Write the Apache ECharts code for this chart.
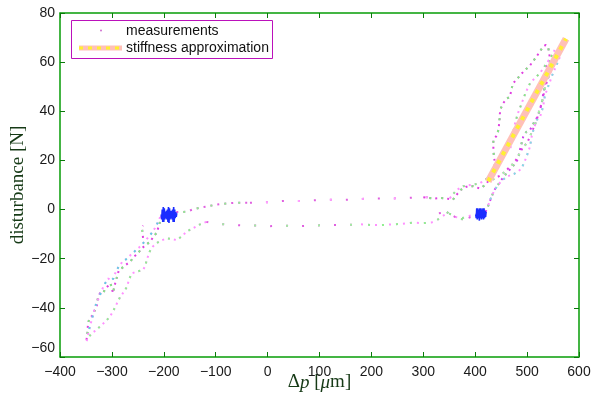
<!DOCTYPE html>
<html><head><meta charset="utf-8">
<script src="https://cdn.jsdelivr.net/npm/echarts@6/dist/echarts.min.js"></script>
<style>html,body{margin:0;padding:0;background:#fff}#c{width:593px;height:397px}</style>
</head><body><div id="c"></div>
<script>
// ---- axis definitions ----
const xMin = -400, xMax = 600, xStep = 100;
const yMin = -60, yMax = 80, yStep = 20;

// ---- stiffness approximation ----
const stiffX = [425, 575];
const stiffY = [11.5, 69.5];

// ---- measurement traces ([dp, disturbance]) ----
const leftUp1 = [[-349,-53],[-347,-50],[-346,-46],[-342,-44],[-337,-43],[-333,-41],[-329,-39],[-327,-36],[-323,-34],[-317,-34],[-312,-32],[-307,-31],[-303,-30],[-300,-32],[-298,-34],[-295,-31],[-291,-28],[-287,-25],[-282,-24],[-276,-23],[-270,-22],[-264,-21],[-257,-19],[-250,-18],[-244,-16],[-238,-15],[-232,-14],[-226,-13],[-220,-11],[-214,-9.5],[-210,-7],[-206,-4],[-203,-2]];
const leftUp2 = [[-346,-51],[-343,-48],[-339,-45],[-334,-41],[-330,-38],[-325,-36],[-320,-33],[-313,-30],[-307,-28],[-302,-29],[-297,-28],[-292,-25],[-286,-23],[-279,-21],[-271,-20],[-264,-18.5],[-256,-17],[-248,-15.5],[-241,-14],[-235,-12.5],[-229,-11],[-223,-9.5],[-217,-7.5],[-212,-5.5],[-207,-3]];
const leftTail = [[-240,-11.5],[-241,-9.5],[-242,-7.5],[-240,-6.5]];
const leftDown = [[-118,-5],[-130,-6],[-143,-7.5],[-156,-9],[-166,-11],[-175,-12.4],[-185,-12],[-194,-11.7],[-204,-12.5],[-214,-13.7],[-221,-15],[-227,-17],[-232,-20],[-236,-23],[-240,-24.6],[-248,-25],[-256,-25.5],[-262,-26],[-267,-28.5],[-271,-31.4],[-277,-33.5],[-284,-35.5],[-291,-38.5],[-298,-41.5],[-304,-43.6],[-312,-45.5],[-320,-47],[-330,-49],[-339,-50.4],[-345,-52],[-349,-53.5]];
const midUpDense = [[-176,-1],[-165,-1],[-156,-0.9],[-145,0],[-130,0.8],[-117,1.2],[-100,2],[-90,2.3],[-79,2.5],[-60,2.8],[-45,2.8],[-34,2.8]];
const midUpSparse = [[-34,2.8],[0,3],[30,3.5],[60,3.5],[90,3.8],[120,4],[150,4],[180,4.3],[200,4.5],[230,4.5],[260,4.6],[290,5],[310,5]];
const midLoSparse = [[-118,-5],[-100,-5.8],[-80,-6],[-60,-6.3],[-40,-6.5],[-20,-6.5],[0,-6.8],[30,-6.5],[60,-6.8],[90,-6.5],[120,-6.3],[150,-6.3],[180,-6]];
const midLoDense = [[180,-6],[200,-6.3],[220,-6.3],[240,-6],[260,-5.8],[280,-5.3],[300,-5.5],[315,-5.3],[325,-4.5],[335,-3],[345,-1.5],[355,-2],[362,-3],[371,-3.5],[380,-3.3],[390,-2.5],[400,-2]];
const midLo3 = [[330,-1.5],[345,-1],[357,-2.5],[368,-3.8],[380,-4],[392,-3],[402,-2]];
const rightUpOuter = [[300,5],[320,4.5],[332,4.7],[345,4.5],[357,4],[364,6],[372,8],[383,9.3],[396,9.5],[409,8.6],[416,9.5],[422,10.7],[430,13],[435,15],[438,18.8],[436,22],[435,24.2],[435,28.3],[441,30],[445,32.5],[447,37],[448,40.5],[453,43],[460,45],[467,46],[470,49],[473,51.4],[480,53],[488,55],[496,56.8],[505,58.5],[512,60.5],[518,62.2],[525,64.5],[531,66.3],[536,67],[541,65.6],[544,61.6],[540,59],[534.5,58.1]];
const rightUpOuter2 = [[351,4.6],[364,8],[377,9.5],[390,10],[400,10.3],[409,10.7],[418,12],[428.5,13.4]];
const rightInner = [[468,25],[472,30],[476.7,35],[482,39],[489.5,43.2],[497,47.5],[505.6,51.4],[515,53.5],[524.9,55.5],[531,57.5],[537.8,59.5],[544,61.5],[550.5,63.6],[553,65]];
const rightUp2 = [[420,-1],[425,1.5],[428.5,3.5],[433,6],[437,8],[441.4,9.3],[450,12],[460.6,14.8],[470,17],[480,19.5],[484,22],[486,24.2],[490,27.5],[492.7,29.7],[498,31.5],[505.6,32.4],[512,35],[518,37],[524,40],[528,43],[531,47],[535,51],[540,54],[546,57],[551,60],[556,62],[560,63.5]];
const rightDown1 = [[563,62],[559,60],[553,57],[547,54],[544,52],[538,48.7],[534,46],[531,42],[525,37.8],[518.5,36.4],[513,33],[508.8,29.7],[505.6,25.6],[498,21],[492,18],[486,16.1],[475,14.5],[460.6,13.4],[450,11.5],[441.4,9.3],[434,6.5],[428.5,3.9],[424,1]];
const rightDown2 = [[557,60.9],[550,58],[544,55.5],[538,52],[534.5,49.4],[531,46],[528,43.2],[523,40],[518.5,36.4],[512,33],[506,30],[500,27],[492.7,25.6],[486,23],[478,20],[470,18],[460,16],[450,14],[440,13],[432,12]];
const leftCluster = [[-205,-2],[-204,-4],[-203,0],[-202,-5],[-201,1],[-200,-5],[-199,0.5],[-198,-4],[-197,-1],[-196,-3.5],[-195,-0.5],[-194,-4],[-193,0],[-192,-5],[-191,1],[-190,-5.5],[-189,0.5],[-188,-4],[-187,-0.5],[-186,-3.5],[-185,-0.5],[-184,-4],[-183,0],[-182,-5],[-181,1],[-180,-5],[-179,0],[-178,-3.5],[-177,-1],[-176,-3],[-175,-1.5]];
const rightCluster = [[401,-2],[402,-3.5],[403,0.5],[404,-4],[405,0.5],[406,-3.5],[407,0],[408,-4.5],[409,0.5],[410,-3.5],[411,0.5],[412,-4],[413,0],[414,-3.5],[415,0.5],[416,-4],[417,0.5],[418,-3.5],[419,-0.5],[420,-3],[421,-1]];

// trace list: data, primary colour, secondary colour, dash gap
const traces = [
  [leftUp1, '#e040e0', '#80f080', 4],
  [leftUp2, '#ff90ff', '#60d0e0', 4],
  [leftTail, '#e040e0', '#90ff90', 4],
  [leftDown, '#ff90ff', '#90f090', 4],
  [midUpDense, '#e060e0', '#90f090', 5],
  [midUpSparse, '#e060e0', '#ffa0ff', 14],
  [midLoSparse, '#e060e0', '#a0f0a0', 14],
  [midLoDense, '#ff90ff', '#90f090', 5],
  [midLo3, '#e060e0', '#90f090', 6],
  [rightUpOuter, '#e040e0', '#80f080', 4],
  [rightUpOuter2, '#ff90ff', '#90f090', 4],
  [rightInner, '#ff90ff', '#80f080', 4],
  [rightUp2, '#d040f0', '#90f090', 4],
  [rightDown1, '#ff90ff', '#80e0e0', 4],
  [rightDown2, '#e040e0', '#a0ffa0', 4]
];

const series = [];
traces.forEach(([d, c1, c2, gap]) => {
  series.push({type:'line', data:d, showSymbol:false, silent:true, animation:false,
    lineStyle:{color:c1, width:2, type:[2, gap], dashOffset:0}});
  series.push({type:'line', data:d, showSymbol:false, silent:true, animation:false,
    lineStyle:{color:c2, width:2, type:[2, gap*2+2], dashOffset:gap+2}});
});
[leftCluster, rightCluster].forEach(d => {
  series.push({type:'line', data:d, showSymbol:false, silent:true, animation:false,
    lineStyle:{color:'#1a2cff', width:1.6}});
});
const stiffData = stiffX.map((x, i) => [x, stiffY[i]]);
series.push({type:'line', data:stiffData, showSymbol:false, silent:true, animation:false, z:5,
  lineStyle:{color:'#ffc0b8', width:7}});
series.push({type:'line', data:stiffData, showSymbol:false, silent:true, animation:false, z:6,
  lineStyle:{color:'#fff030', width:4, type:[4,6]}});

const axisGreen = '#2aaa2a';
const tickGreen = '#0a7a0a';
const sans = 'Liberation Sans, Arial, Helvetica, sans-serif';
const serif = 'Liberation Serif, Times New Roman, serif';
const fmt = v => String(v).replace('-', '\u2212');

const chart = echarts.init(document.getElementById('c'), null, {renderer:'canvas'});
chart.setOption({
  animation:false,
  backgroundColor:'#fff',
  grid:{left:60, right:14, top:13, bottom:40, containLabel:false, outerBoundsMode:'none',
    show:true, borderColor:axisGreen, borderWidth:1, backgroundColor:'transparent'},
  xAxis:[{
    type:'value', min:xMin, max:xMax, interval:xStep,
    axisLine:{show:true, onZero:false, lineStyle:{color:axisGreen, width:1.5}},
    axisTick:{show:true, inside:true, length:5, lineStyle:{color:tickGreen}},
    splitLine:{show:false},
    axisLabel:{color:'#1a1a1a', fontFamily:sans, fontSize:14, margin:8, formatter:fmt},
    name:'{n|\u0394}{i|p}{n| [}{i|\u03bc}{n|m]}', nameLocation:'middle', nameGap:16, nameMoveOverlap:false,
    nameTextStyle:{rich:{
      n:{fontFamily:serif, fontSize:19, color:'#163a16'},
      i:{fontFamily:serif, fontSize:19, fontStyle:'italic', color:'#163a16'}}}
  },{
    type:'value', position:'top', min:xMin, max:xMax, interval:xStep,
    axisLine:{show:true, onZero:false, lineStyle:{color:axisGreen, width:1.5}},
    axisTick:{show:true, inside:true, length:5, lineStyle:{color:tickGreen}},
    axisLabel:{show:false}, splitLine:{show:false}
  }],
  yAxis:[{
    type:'value', min:yMin, max:yMax, interval:yStep,
    axisLine:{show:true, onZero:false, lineStyle:{color:axisGreen, width:1.5}},
    axisTick:{show:true, inside:true, length:5, lineStyle:{color:tickGreen}},
    splitLine:{show:false},
    axisLabel:{color:'#1a1a1a', fontFamily:sans, fontSize:14, margin:5,
      formatter: v => v === yMin ? '{u|' + fmt(v) + '}' : fmt(v),
      rich:{u:{color:'#1a1a1a', fontFamily:sans, fontSize:14, padding:[0,0,18,0]}}},
    name:'disturbance [N]', nameLocation:'middle', nameGap:32, nameRotate:90, nameMoveOverlap:false,
    nameTextStyle:{fontFamily:serif, fontSize:19, color:'#163a16'}
  },{
    type:'value', position:'right', min:yMin, max:yMax, interval:yStep,
    axisLine:{show:true, onZero:false, lineStyle:{color:axisGreen, width:1.5}},
    axisTick:{show:true, inside:true, length:5, lineStyle:{color:tickGreen}},
    axisLabel:{show:false}, splitLine:{show:false}
  }],
  series: series,
  graphic:[
    {type:'rect', z:100, shape:{x:71.5, y:20.5, width:201, height:38},
      style:{fill:'#fff', stroke:'#bb11bb', lineWidth:1}},
    {type:'circle', z:101, shape:{cx:101, cy:30.5, r:1}, style:{fill:'#d070d0'}},
    {type:'text', z:101, x:126, y:31, style:{text:'measurements', font:'14px ' + sans, fill:'#111', verticalAlign:'middle'}},
    {type:'line', z:101, shape:{x1:79, y1:48, x2:122, y2:48}, style:{stroke:'#ffc0b8', lineWidth:5}},
    {type:'line', z:102, shape:{x1:79, y1:48, x2:122, y2:48}, style:{stroke:'#fff030', lineWidth:3, lineDash:[4,5]}},
    {type:'text', z:101, x:126, y:48, style:{text:'stiffness approximation', font:'14px ' + sans, fill:'#111', verticalAlign:'middle'}}
  ]
});
</script></body></html>
